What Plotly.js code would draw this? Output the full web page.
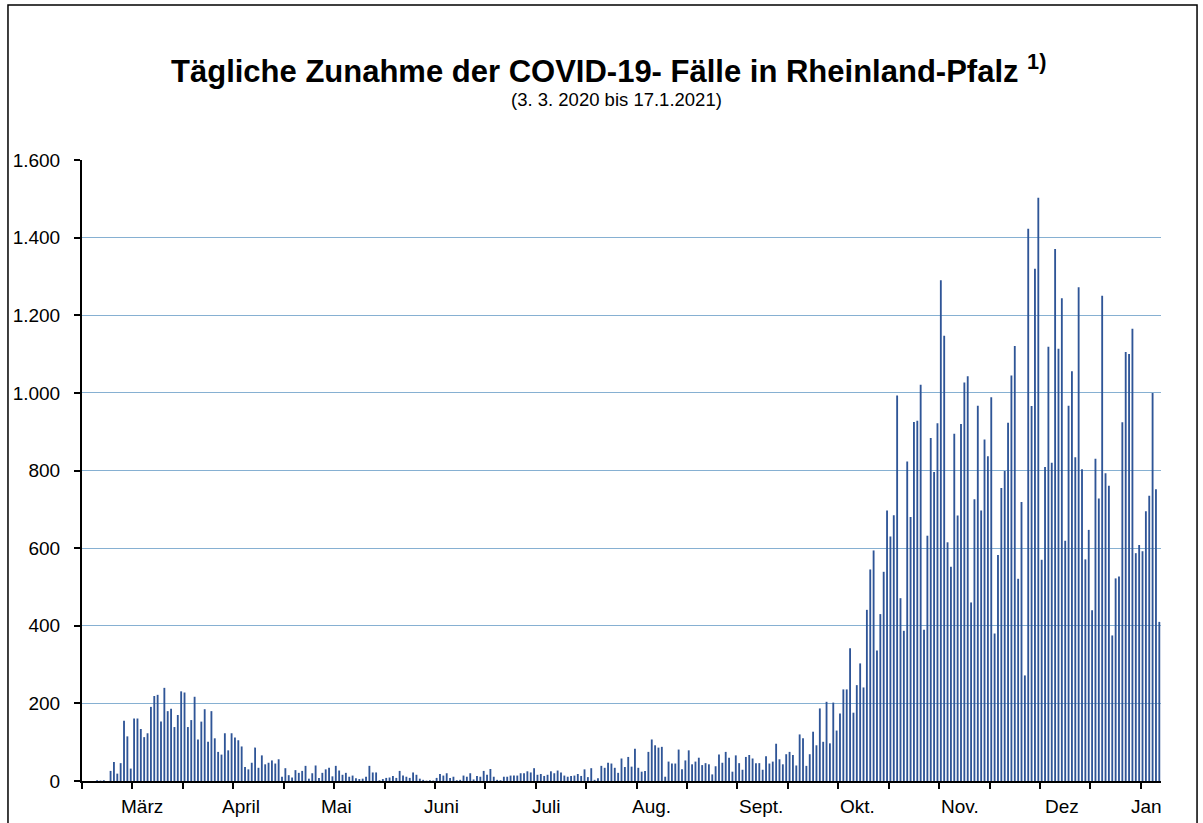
<!DOCTYPE html>
<html>
<head>
<meta charset="utf-8">
<script src="https://cdn.plot.ly/plotly-3.0.1.min.js"></script>
<style>
  html, body { margin: 0; padding: 0; background: #ffffff; }
  #chart { width: 1203px; height: 823px; }
</style>
</head>
<body>
<div id="chart"></div>
<script>
// daily increase of COVID-19 cases, Rheinland-Pfalz, 3.3.2020 - 17.1.2021
const startDate = '2020-03-03';

const casesMarch = [0, 0, 0, 0, 2, 1, 2, 0, 26, 49, 19, 46, 155, 115, 32, 161, 161, 134, 113, 123,
  191, 219, 222, 153, 240, 180, 186, 139, 170];
const casesApril = [231, 228, 139, 157, 217, 107, 153, 185, 101, 180, 110, 75, 68, 123, 79, 123,
  112, 105, 89, 36, 30, 47, 86, 34, 66, 43, 47, 53, 45, 56];
const casesMay = [11, 33, 15, 9, 28, 21, 26, 39, 6, 20, 40, 8, 21, 30, 34, 12, 39, 27, 16, 21,
  11, 14, 7, 5, 6, 11, 39, 22, 22, 2, 5];
const casesJune = [8, 9, 13, 8, 26, 14, 11, 8, 22, 16, 6, 3, 1, 2, 1, 8, 18, 14, 20, 8,
  11, 2, 3, 14, 11, 20, 4, 13, 11, 26];
const casesJuly = [16, 31, 11, 3, 2, 11, 11, 14, 14, 14, 20, 20, 25, 22, 33, 16, 18, 13, 16, 25,
  20, 27, 22, 14, 11, 13, 14, 18, 13, 30, 10];
const casesAugust = [33, 3, 7, 39, 34, 47, 45, 34, 21, 58, 36, 62, 37, 83, 34, 24, 26, 75, 107, 92,
  86, 88, 11, 50, 45, 45, 81, 30, 53, 79, 43];
const casesSeptember = [50, 60, 41, 46, 43, 17, 38, 68, 47, 75, 60, 24, 66, 46, 29, 62, 67, 58, 46, 46,
  29, 64, 45, 50, 96, 56, 43, 69, 75, 67];
const casesOctober = [40, 120, 110, 39, 69, 127, 92, 187, 101, 204, 97, 202, 130, 174, 236, 236, 342, 176, 247, 303,
  241, 441, 545, 594, 336, 430, 539, 697, 630, 685, 993];
const casesNovember = [471, 387, 823, 680, 925, 928, 1021, 390, 632, 884, 796, 922, 1290, 1147, 615, 552, 895, 684, 920, 1027,
  1043, 460, 726, 967, 697, 880, 837, 989, 380, 582];
const casesDecember = [755, 799, 923, 1045, 1121, 521, 719, 272, 1423, 966, 1320, 1503, 570, 809, 1119, 820, 1371, 1114, 1244, 619,
  967, 1056, 834, 1272, 803, 571, 647, 440, 830, 728, 1250];
const casesJanuary = [793, 761, 375, 522, 527, 924, 1105, 1100, 1165, 587, 608, 592, 695, 735, 1000, 752, 410];

// month labels under the axis and where they sit (days after the start date)
const monthLabels = ['März', 'April', 'Mai', 'Juni', 'Juli', 'Aug.', 'Sept.', 'Okt.', 'Nov.', 'Dez', 'Jan'];
const monthLabelDays = [17.4, 46.9, 75.3, 106.4, 137.7, 169, 201.6, 230.2, 260.7, 291.1, 316.2];

const DAY = 86400000;
const t0 = Date.parse(startDate + 'T00:00:00Z');
const toDate = d => new Date(t0 + d * DAY).toISOString().replace('T', ' ').slice(0, 19);

const cases = [].concat(casesMarch, casesApril, casesMay, casesJune, casesJuly, casesAugust,
  casesSeptember, casesOctober, casesNovember, casesDecember, casesJanuary);
const days = cases.map((v, i) => toDate(i).slice(0, 10));

const trace = {
  type: 'bar',
  x: days,
  y: cases,
  marker: { color: '#2f5597', line: { width: 0 } },
  hoverinfo: 'x+y'
};

const font = 'Liberation Sans, Arial, sans-serif';

const layout = {
  width: 1203,
  height: 823,
  margin: { l: 82, r: 42, t: 160, b: 42 },
  paper_bgcolor: '#ffffff',
  plot_bgcolor: '#ffffff',
  separators: ',.',
  font: { family: font, color: '#000000', size: 19 },
  bargap: 0.45,
  showlegend: false,
  title: {
    text: '<b>Tägliche Zunahme der COVID-19- Fälle in Rheinland-Pfalz <sup>1)</sup></b>',
    font: { family: font, size: 31, color: '#000000' },
    x: 0.506, xanchor: 'center', xref: 'container',
    y: 0.913, yanchor: 'middle', yref: 'container'
  },
  xaxis: {
    type: 'date',
    range: [toDate(-0.5), toDate(320.5)],
    showgrid: false,
    zeroline: false,
    showline: true, linecolor: '#000000', linewidth: 2,
    ticks: 'outside', ticklen: 6, tickwidth: 2, tickcolor: '#000000',
    tick0: toDate(-0.5), dtick: 15 * DAY,
    showticklabels: false,
    fixedrange: true
  },
  yaxis: {
    range: [0, 1600],
    dtick: 200,
    tickformat: ',d',
    showgrid: true, gridcolor: '#86b0d2', gridwidth: 1,
    zeroline: false,
    showline: true, linecolor: '#000000', linewidth: 2,
    ticks: 'outside', ticklen: 6, tickwidth: 2, tickcolor: '#000000',
    ticklabelstandoff: 10,
    tickfont: { family: font, size: 19, color: '#000000' },
    fixedrange: true
  },
  annotations: [
    {
      text: '(3. 3. 2020 bis 17.1.2021)',
      xref: 'paper', yref: 'paper', x: 0.495, y: 1.097,
      xanchor: 'center', yanchor: 'middle', showarrow: false,
      font: { family: font, size: 18.5, color: '#000000' }
    }
  ].concat(monthLabels.map((m, i) => ({
    text: m,
    xref: 'x', yref: 'paper',
    x: toDate(monthLabelDays[i]), y: -0.041,
    xanchor: 'center', yanchor: 'middle', showarrow: false,
    font: { family: font, size: 19, color: '#000000' }
  }))),
  shapes: [
    // outer frame of the graphic
    {
      type: 'path', xref: 'paper', yref: 'paper',
      path: 'M -0.0686,-0.07 L -0.0686,1.2496 L 1.0334,1.2496 L 1.0334,-0.07',
      line: { color: '#000000', width: 1.5 }
    }
  ]
};

Plotly.newPlot('chart', [trace], layout, { displayModeBar: false, staticPlot: true });
</script>
</body>
</html>
